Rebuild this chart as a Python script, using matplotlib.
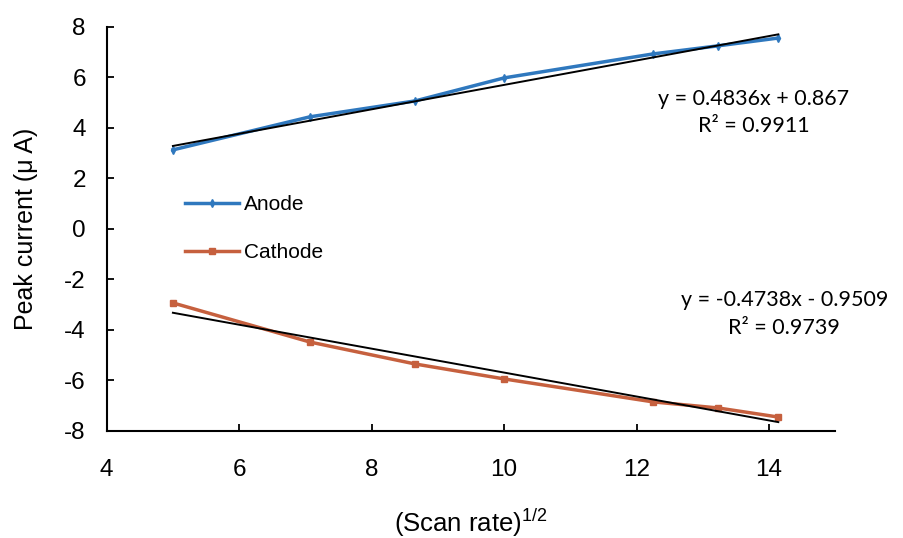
import matplotlib
matplotlib.use("Agg")
import matplotlib.pyplot as plt
import numpy as np

# Square root of scan rate (25, 50, 75, 100, 150, 175, 200 mV/s)
scan_rate_sqrt = [5.0, 7.07, 8.66, 10.0, 12.25, 13.23, 14.14]
anode_current = [3.13, 4.44, 5.07, 5.98, 6.93, 7.25, 7.56]
cathode_current = [-2.93, -4.48, -5.35, -5.94, -6.85, -7.09, -7.45]

# Linear trendlines (slope, intercept, R^2)
anode_fit = (0.4836, 0.867, 0.9911)
cathode_fit = (-0.4738, -0.9509, 0.9739)

x_ticks = [4, 6, 8, 10, 12, 14]
y_ticks = [-8, -6, -4, -2, 0, 2, 4, 6, 8]

blue = "#2F78BE"
orange = "#C6603E"

plt.rcParams["font.family"] = ["Liberation Sans", "DejaVu Sans"]
plt.rcParams["axes.unicode_minus"] = False
plt.rcParams["mathtext.fontset"] = "custom"
plt.rcParams["mathtext.rm"] = "Liberation Sans"
plt.rcParams["mathtext.it"] = "Liberation Sans:italic"
plt.rcParams["mathtext.bf"] = "Liberation Sans:bold"

fig = plt.figure(figsize=(9.04, 5.38), dpi=100)
ax = fig.add_axes([0.118, 0.199, 0.806, 0.751])

ax.plot(scan_rate_sqrt, anode_current, color=blue, lw=2.5, marker="d",
        ms=4, label="Anode", zorder=2)
ax.plot(scan_rate_sqrt, cathode_current, color=orange, lw=2.5, marker="s",
        ms=4, label="Cathode", zorder=2)

xs = np.array([scan_rate_sqrt[0], scan_rate_sqrt[-1]])
for slope, intercept, _ in (anode_fit, cathode_fit):
    ax.plot(xs, slope * xs + intercept, color="black", lw=1.4, zorder=3)

eq_font = ["Lato", "DejaVu Sans"]
ax.text(13.77, 4.61,
        f"y = {anode_fit[0]:.4f}x + {anode_fit[1]:.3f}\nR² = {anode_fit[2]:.4f}",
        ha="center", va="center", fontsize=15.5, family=eq_font, linespacing=1.4)
ax.text(14.23, -3.35,
        f"y = {cathode_fit[0]:.4f}x - {abs(cathode_fit[1]):.4f}\nR² = {cathode_fit[2]:.4f}",
        ha="center", va="center", fontsize=15.5, family=eq_font, linespacing=1.5)

ax.set_xlim(4, 15)
ax.set_ylim(-8, 8)
ax.set_xticks(x_ticks)
ax.set_yticks(y_ticks)
ax.spines["top"].set_visible(False)
ax.spines["right"].set_visible(False)
for s in ("left", "bottom"):
    ax.spines[s].set_linewidth(1.5)
ax.tick_params(direction="in", length=5, width=1.3, labelsize=17.5)
ax.tick_params(axis="x", pad=20)
ax.tick_params(axis="y", pad=15)

ax.set_ylabel("Peak current (μ A)", fontsize=18, labelpad=19)
ax.set_xlabel("(Scan rate)$^{\\mathrm{1/2}}$", fontsize=18.5, labelpad=19)

ax.legend(loc="upper left", bbox_to_anchor=(0.0955, 0.605), frameon=False,
          borderaxespad=0, fontsize=15, handlelength=2.6, labelspacing=1.4,
          handletextpad=0.25)

fig.savefig("out.png", dpi=100, facecolor="white")
